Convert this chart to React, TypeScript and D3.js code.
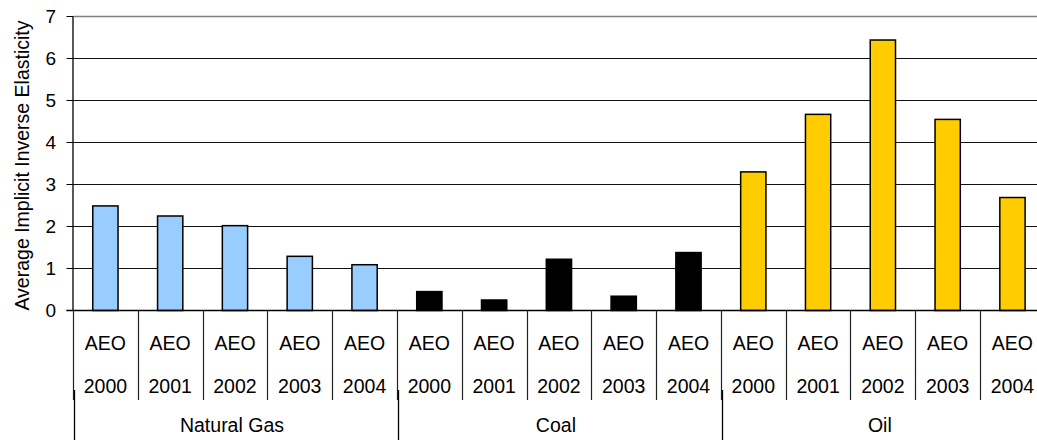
import React from "react";
import * as d3 from "d3";

const groups = ["Natural Gas", "Coal", "Oil"];
const years = ["2000", "2001", "2002", "2003", "2004"];
const naturalGas = [2.49, 2.25, 2.02, 1.29, 1.09];
const coal = [0.45, 0.25, 1.22, 0.34, 1.38];
const oil = [3.3, 4.67, 6.44, 4.55, 2.69];
const groupColors = ["#99CCFF", "#000000", "#FFCC00"];
const yTicks = [0, 1, 2, 3, 4, 5, 6, 7];
const yTitle = "Average Implicit Inverse Elasticity";
const prefix = "AEO";

const W = 1037;
const H = 445;
const left = 73;
const catW = 64.79;
const top = 16.5;
const bottom = 310.5;
const FONT = "'Liberation Sans', Arial, sans-serif";

export default function App() {
  const series = [naturalGas, coal, oil];
  const items = series.flatMap((vals, g) =>
    vals.map((v, i) => ({ g, i, year: years[i], v, key: `${g}-${i}` }))
  );
  const x = d3
    .scaleBand<string>()
    .domain(items.map((d) => d.key))
    .range([left, left + catW * items.length])
    .padding(0);
  const bw = x.bandwidth();
  const y = d3.scaleLinear().domain([0, 7]).range([bottom, top]);
  const right = left + catW * items.length;
  const groupSize = years.length;
  const snap = (v: number) => Math.round(v) + 0.5;

  return (
    <svg
      width={W}
      height={H}
      style={{ position: "absolute", left: 0, top: 0, background: "#fff" }}
      fontFamily={FONT}
    >
      <rect x={0} y={0} width={W} height={H} fill="#fff" />
      {/* gridlines */}
      {yTicks.map((t) => (
        <line
          key={t}
          x1={left}
          x2={right}
          y1={y(t)}
          y2={y(t)}
          stroke={t === 7 ? "#808080" : "#111"}
          strokeWidth={t === 7 ? 1.6 : 1}
        />
      ))}
      {/* y ticks */}
      {yTicks.map((t) => (
        <g key={"t" + t}>
          <line x1={left - 6.5} x2={left} y1={y(t)} y2={y(t)} stroke="#000" strokeWidth={1} />
          <text x={56} y={y(t)} dy="0.36em" textAnchor="end" fontSize={19} fill="#000">
            {t}
          </text>
        </g>
      ))}
      {/* bars */}
      {items.map((d) => (
        <rect
          key={d.key}
          x={(x(d.key) as number) + bw * 0.305}
          y={y(d.v)}
          width={bw * 0.39}
          height={bottom - y(d.v)}
          fill={groupColors[d.g]}
          stroke="#000"
          strokeWidth={1.5}
        />
      ))}
      {/* axes */}
      <line x1={left} x2={left} y1={top} y2={bottom} stroke="#000" strokeWidth={1.3} />
      <line x1={left - 6.5} x2={right} y1={bottom} y2={bottom} stroke="#000" strokeWidth={1.3} />
      {/* category separators */}
      {d3.range(items.length + 1).map((k) => (
        <line
          key={"s" + k}
          x1={snap(left + k * catW)}
          x2={snap(left + k * catW)}
          y1={bottom}
          y2={400}
          stroke="#222"
          strokeWidth={1.2}
        />
      ))}
      {/* group separators */}
      {d3.range(groups.length + 1).map((k) => (
        <line
          key={"gs" + k}
          x1={snap(left + k * catW * groupSize + 1)}
          x2={snap(left + k * catW * groupSize + 1)}
          y1={390}
          y2={440}
          stroke="#000"
          strokeWidth={1.3}
        />
      ))}
      {/* category labels */}
      {items.map((d) => {
        const cx = (x(d.key) as number) + bw / 2;
        return (
          <g key={"l" + d.key} fontSize={19.5} fill="#000" textAnchor="middle">
            <text x={cx} y={350}>{prefix}</text>
            <text x={cx} y={393}>{d.year}</text>
          </g>
        );
      })}
      {/* group labels */}
      {groups.map((gname, g) => {
        const x0 = x(`${g}-0`) as number;
        const x1 = (x(`${g}-${groupSize - 1}`) as number) + bw;
        return (
          <text key={gname} x={(x0 + x1) / 2 - 3} y={432} fontSize={19.5} textAnchor="middle" fill="#000">
            {gname}
          </text>
        );
      })}
      {/* y title */}
      <text
        transform={`translate(29,${(top + bottom) / 2 + 2}) rotate(-90)`}
        textAnchor="middle"
        fontSize={19.5}
        fill="#000"
      >
        {yTitle}
      </text>
    </svg>
  );
}
